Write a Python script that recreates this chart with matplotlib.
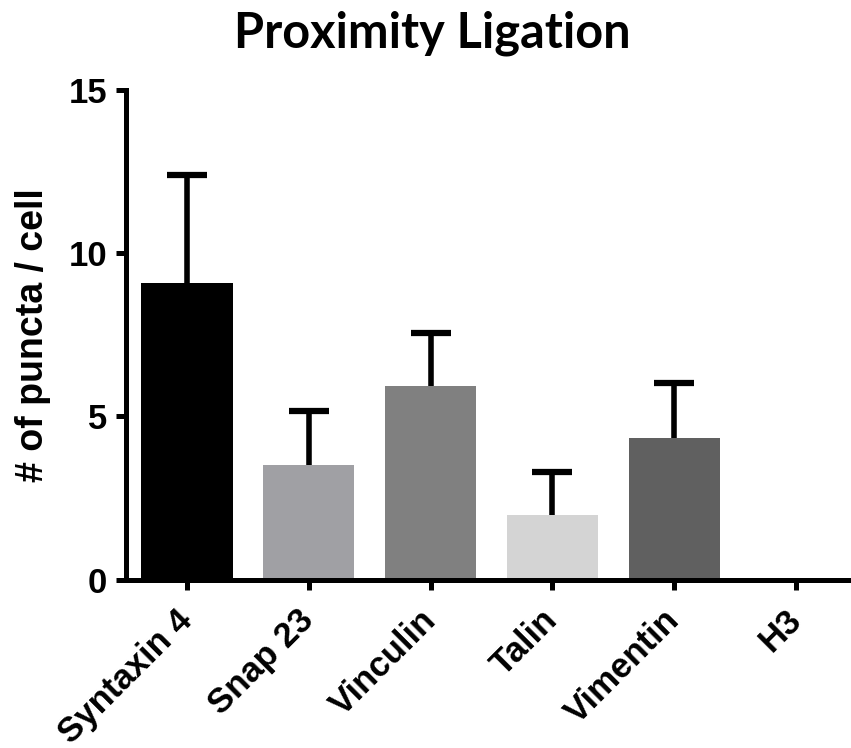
import matplotlib.pyplot as plt
import numpy as np

# values
labels = ["Syntaxin 4", "Snap 23", "Vinculin", "Talin", "Vimentin", "H3"]
means = [9.07, 3.52, 5.92, 1.98, 4.35, 0.0]
errors = [3.33, 1.63, 1.64, 1.32, 1.67, 0.0]
colors = ["#000000", "#a0a0a4", "#808080", "#d4d4d4", "#606060", "#ffffff"]

plt.rcParams['font.family'] = ['Liberation Sans', 'DejaVu Sans']

fig = plt.figure(figsize=(8.51, 7.48), dpi=100)
ax = fig.add_axes([0.148, 0.225, 0.852, 0.655])

x = np.arange(len(labels))
# draw full error bars behind the bars so only the upper half shows
ax.errorbar(x[:5], means[:5], yerr=errors[:5], fmt="none",
            ecolor="black", elinewidth=4, capsize=14.5, capthick=4.5, zorder=1)
ax.bar(x, means, width=0.75, color=colors, zorder=2)

ax.set_xlim(-0.5, 5.45)
ax.set_ylim(0, 15)
ax.set_yticks([0, 5, 10, 15])
ax.set_xticks(x)
ax.set_xticklabels(labels, rotation=45, ha="right", va="center",
                   rotation_mode="anchor", fontsize=25, fontweight="bold")
for t in ax.get_yticklabels():
    t.set_fontsize(25)
    t.set_fontweight("bold")

for s in ["top", "right"]:
    ax.spines[s].set_visible(False)
for s in ["left", "bottom"]:
    ax.spines[s].set_linewidth(3.6)
ax.tick_params(width=3.6, length=7.5)
ax.tick_params(axis="y", pad=6)
ax.tick_params(axis="x", pad=18)

ax.set_ylabel("# of puncta / cell", fontsize=27, fontweight="bold")
ax.yaxis.set_label_coords(-0.104, 0.5)
fig.text(0.508, 1 - 47 / 748, "Proximity Ligation", ha="center", va="baseline",
         fontsize=35, fontweight="bold", family=["Lato", "DejaVu Sans"])

fig.savefig("out.png", dpi=100)
